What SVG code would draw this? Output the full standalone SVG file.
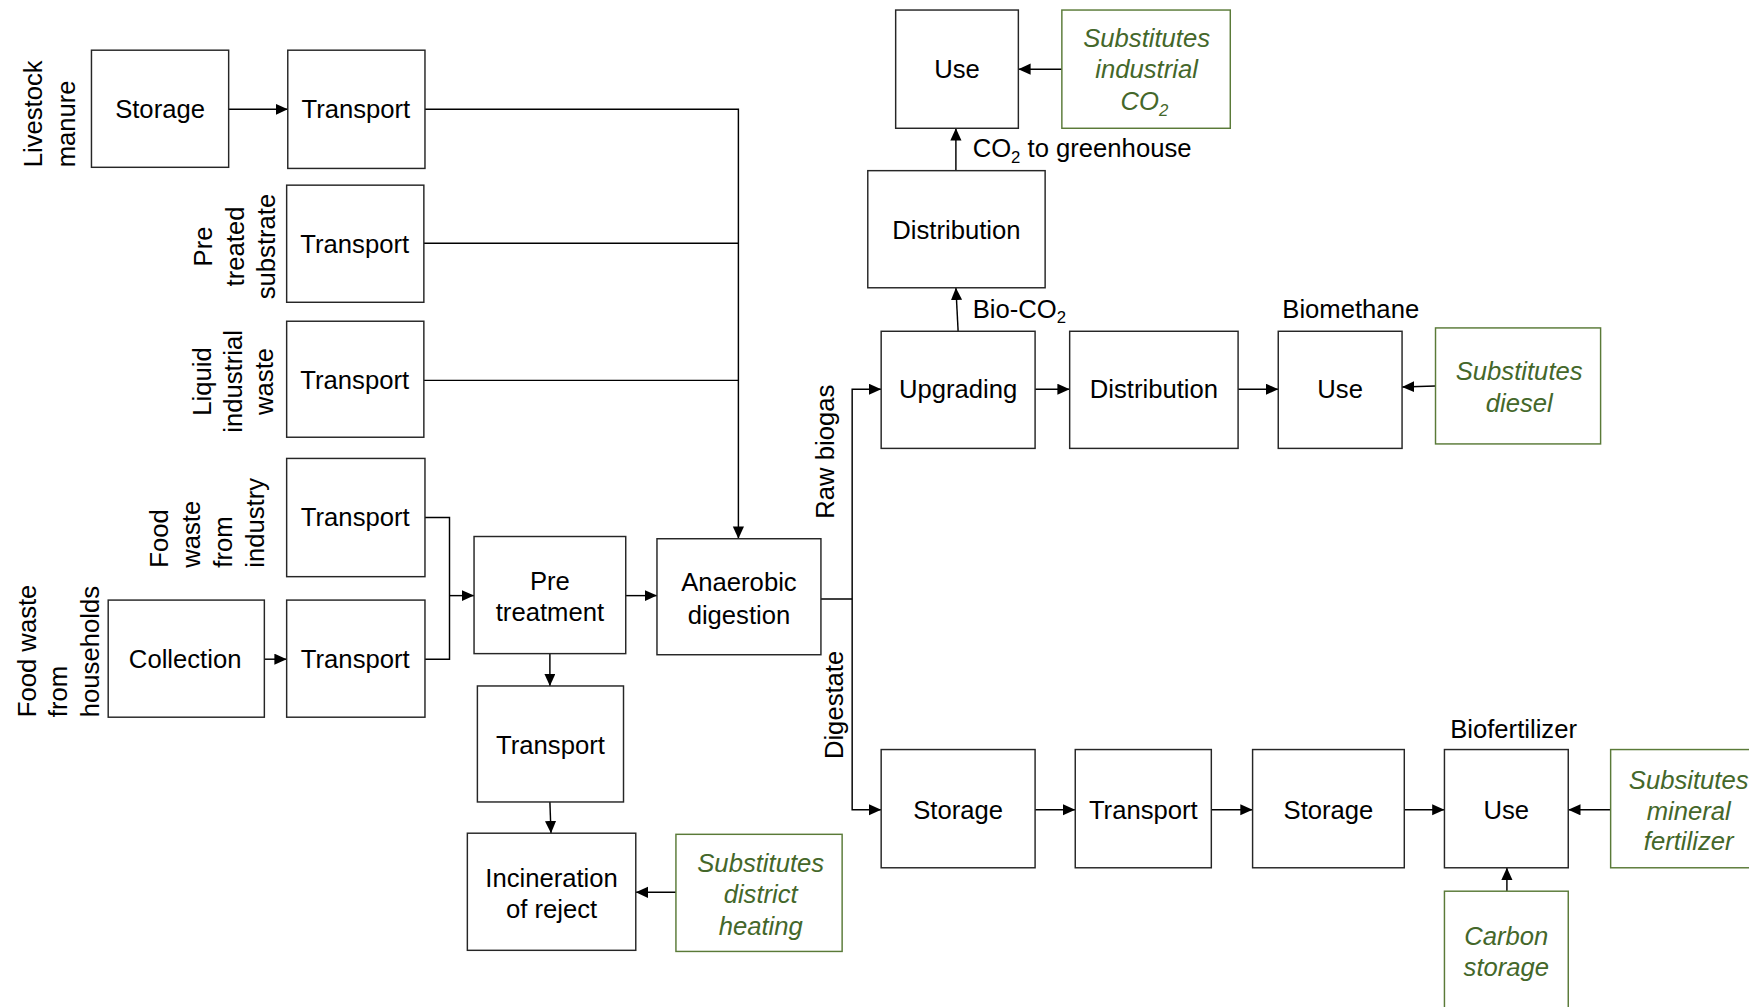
<svg xmlns="http://www.w3.org/2000/svg" width="1749" height="1007" viewBox="0 0 1749 1007">
<defs>
<style>
.b{fill:#fff;stroke:#262626;stroke-width:1.3}
.g{fill:#fff;stroke:#5a7a38;stroke-width:1.3}
.t{font-family:"Liberation Sans",Arial,sans-serif;font-size:23px;fill:#000;text-anchor:middle}
.l{font-family:"Liberation Sans",Arial,sans-serif;font-size:23px;fill:#000}
.gt{font-family:"Liberation Sans",Arial,sans-serif;font-size:23px;font-style:italic;fill:#44672a;text-anchor:middle}
.c{fill:none;stroke:#000;stroke-width:1.3}
</style>
<marker id="ar" markerUnits="userSpaceOnUse" markerWidth="12" markerHeight="11" refX="11" refY="5" orient="auto">
<path d="M0,0 L11,5 L0,10 z" fill="#000"/>
</marker>
</defs>
<rect width="1749" height="1007" fill="#fff"/>
<g transform="scale(1.1154)">
<g id="connectors">
<path class="c" d="M205,98 H258" marker-end="url(#ar)"/>
<path class="c" d="M381,98 H662 V483" marker-end="url(#ar)"/>
<path class="c" d="M380,218 H662"/>
<path class="c" d="M380,341 H662"/>
<path class="c" d="M381,464 H403 V591 H381"/>
<path class="c" d="M403,534 H425" marker-end="url(#ar)"/>
<path class="c" d="M237,591 H257" marker-end="url(#ar)"/>
<path class="c" d="M561,534 H589" marker-end="url(#ar)"/>
<path class="c" d="M493,586 V615" marker-end="url(#ar)"/>
<path class="c" d="M493,719 L494,747" marker-end="url(#ar)"/>
<path class="c" d="M606,800 H570" marker-end="url(#ar)"/>
<path class="c" d="M736,537 H764"/>
<path class="c" d="M764,537 V349 H790" marker-end="url(#ar)"/>
<path class="c" d="M764,537 V726 H790" marker-end="url(#ar)"/>
<path class="c" d="M928,349 H959" marker-end="url(#ar)"/>
<path class="c" d="M1110,349 H1146" marker-end="url(#ar)"/>
<path class="c" d="M1287,346 L1257,347" marker-end="url(#ar)"/>
<path class="c" d="M859,297 L857,258" marker-end="url(#ar)"/>
<path class="c" d="M857,153 V115" marker-end="url(#ar)"/>
<path class="c" d="M952,62 H913" marker-end="url(#ar)"/>
<path class="c" d="M928,726 H964" marker-end="url(#ar)"/>
<path class="c" d="M1086,726 H1123" marker-end="url(#ar)"/>
<path class="c" d="M1259,726 H1295" marker-end="url(#ar)"/>
<path class="c" d="M1444,726 H1406" marker-end="url(#ar)"/>
<path class="c" d="M1351,799 V778" marker-end="url(#ar)"/>
</g>
<g id="labels">
<text class="l" transform="translate(38,150) rotate(-90)"><tspan x="0" y="0">Livestock</tspan><tspan x="0" y="29">manure</tspan></text>
<text class="t" transform="translate(190,221) rotate(-90)"><tspan x="0" y="0">Pre</tspan><tspan x="0" y="28.5">treated</tspan><tspan x="0" y="57">substrate</tspan></text>
<text class="t" transform="translate(189,342) rotate(-90)"><tspan x="0" y="0">Liquid</tspan><tspan x="0" y="28">industrial</tspan><tspan x="0" y="56">waste</tspan></text>
<text class="l" transform="translate(151,509) rotate(-90)"><tspan x="0" y="0">Food</tspan><tspan x="0" y="28.5">waste</tspan><tspan x="0" y="57">from</tspan><tspan x="0" y="85.5">industry</tspan></text>
<text class="l" transform="translate(32,643) rotate(-90)"><tspan x="0" y="0">Food waste</tspan><tspan x="0" y="28.5">from</tspan><tspan x="0" y="57">households</tspan></text>
<text class="t" transform="translate(748,405) rotate(-90)">Raw biogas</text>
<text class="t" transform="translate(756,632) rotate(-90)">Digestate</text>
<text class="l" x="872" y="141">CO<tspan font-size="15" dy="5">2</tspan><tspan dy="-5"> to greenhouse</tspan></text>
<text class="l" x="872" y="285">Bio-CO<tspan font-size="15" dy="5">2</tspan></text>
<text class="t" x="1211" y="285">Biomethane</text>
<text class="t" x="1357" y="662">Biofertilizer</text>
</g>
<g id="n-storage1"><rect class="b" x="82" y="45" width="123" height="105"/><text class="t" x="143.5" y="106">Storage</text></g>
<g id="n-transport1"><rect class="b" x="258" y="45" width="123" height="106"/><text class="t" x="319" y="106">Transport</text></g>
<g id="n-transport2"><rect class="b" x="257" y="166" width="123" height="105"/><text class="t" x="318" y="227">Transport</text></g>
<g id="n-transport3"><rect class="b" x="257" y="288" width="123" height="104"/><text class="t" x="318" y="349">Transport</text></g>
<g id="n-transport4"><rect class="b" x="257" y="411" width="124" height="106"/><text class="t" x="318.5" y="472">Transport</text></g>
<g id="n-collection"><rect class="b" x="97" y="538" width="140" height="105"/><text class="t" x="166" y="599">Collection</text></g>
<g id="n-transport5"><rect class="b" x="257" y="538" width="124" height="105"/><text class="t" x="318.5" y="599">Transport</text></g>
<g id="n-pretreatment"><rect class="b" x="425" y="481" width="136" height="105"/><text class="t" x="493" y="529">Pre</text><text class="t" x="493" y="557">treatment</text></g>
<g id="n-ad"><rect class="b" x="589" y="483" width="147" height="104"/><text class="t" x="662.5" y="530">Anaerobic</text><text class="t" x="662.5" y="559">digestion</text></g>
<g id="n-transport6"><rect class="b" x="428" y="615" width="131" height="104"/><text class="t" x="493.5" y="676">Transport</text></g>
<g id="n-incineration"><rect class="b" x="419" y="747" width="151" height="105"/><text class="t" x="494.5" y="795">Incineration</text><text class="t" x="494.5" y="823">of reject</text></g>
<g id="n-sub-heating"><rect class="g" x="606" y="748" width="149" height="105"/><text class="gt" x="682" y="782">Substitutes</text><text class="gt" x="682" y="810">district</text><text class="gt" x="682" y="838">heating</text></g>
<g id="n-upgrading"><rect class="b" x="790" y="297" width="138" height="105"/><text class="t" x="859" y="357">Upgrading</text></g>
<g id="n-distribution1"><rect class="b" x="959" y="297" width="151" height="105"/><text class="t" x="1034.5" y="357">Distribution</text></g>
<g id="n-use1"><rect class="b" x="1146" y="297" width="111" height="105"/><text class="t" x="1201.5" y="357">Use</text></g>
<g id="n-sub-diesel"><rect class="g" x="1287" y="294" width="148" height="104"/><text class="gt" x="1362" y="341">Substitutes</text><text class="gt" x="1362" y="369">diesel</text></g>
<g id="n-distribution2"><rect class="b" x="778" y="153" width="159" height="105"/><text class="t" x="857.5" y="214">Distribution</text></g>
<g id="n-use2"><rect class="b" x="803" y="9" width="110" height="106"/><text class="t" x="858" y="70">Use</text></g>
<g id="n-sub-co2"><rect class="g" x="952" y="9" width="151" height="106"/><text class="gt" x="1028" y="42">Substitutes</text><text class="gt" x="1028" y="70">industrial</text><text class="gt" x="1026" y="99">CO<tspan font-size="15" dy="5">2</tspan></text></g>
<g id="n-storage2"><rect class="b" x="790" y="672" width="138" height="106"/><text class="t" x="859" y="734">Storage</text></g>
<g id="n-transport7"><rect class="b" x="964" y="672" width="122" height="106"/><text class="t" x="1025" y="734">Transport</text></g>
<g id="n-storage3"><rect class="b" x="1123" y="672" width="136" height="106"/><text class="t" x="1191" y="734">Storage</text></g>
<g id="n-use3"><rect class="b" x="1295" y="672" width="111" height="106"/><text class="t" x="1350.5" y="734">Use</text></g>
<g id="n-sub-fertilizer"><rect class="g" x="1444" y="672" width="140" height="106"/><text class="gt" x="1514" y="707">Subsitutes</text><text class="gt" x="1514" y="735">mineral</text><text class="gt" x="1514" y="762">fertilizer</text></g>
<g id="n-carbon"><rect class="g" x="1295" y="799" width="111" height="110"/><text class="gt" x="1350.5" y="847">Carbon</text><text class="gt" x="1350.5" y="875">storage</text></g>
</g>
</svg>
